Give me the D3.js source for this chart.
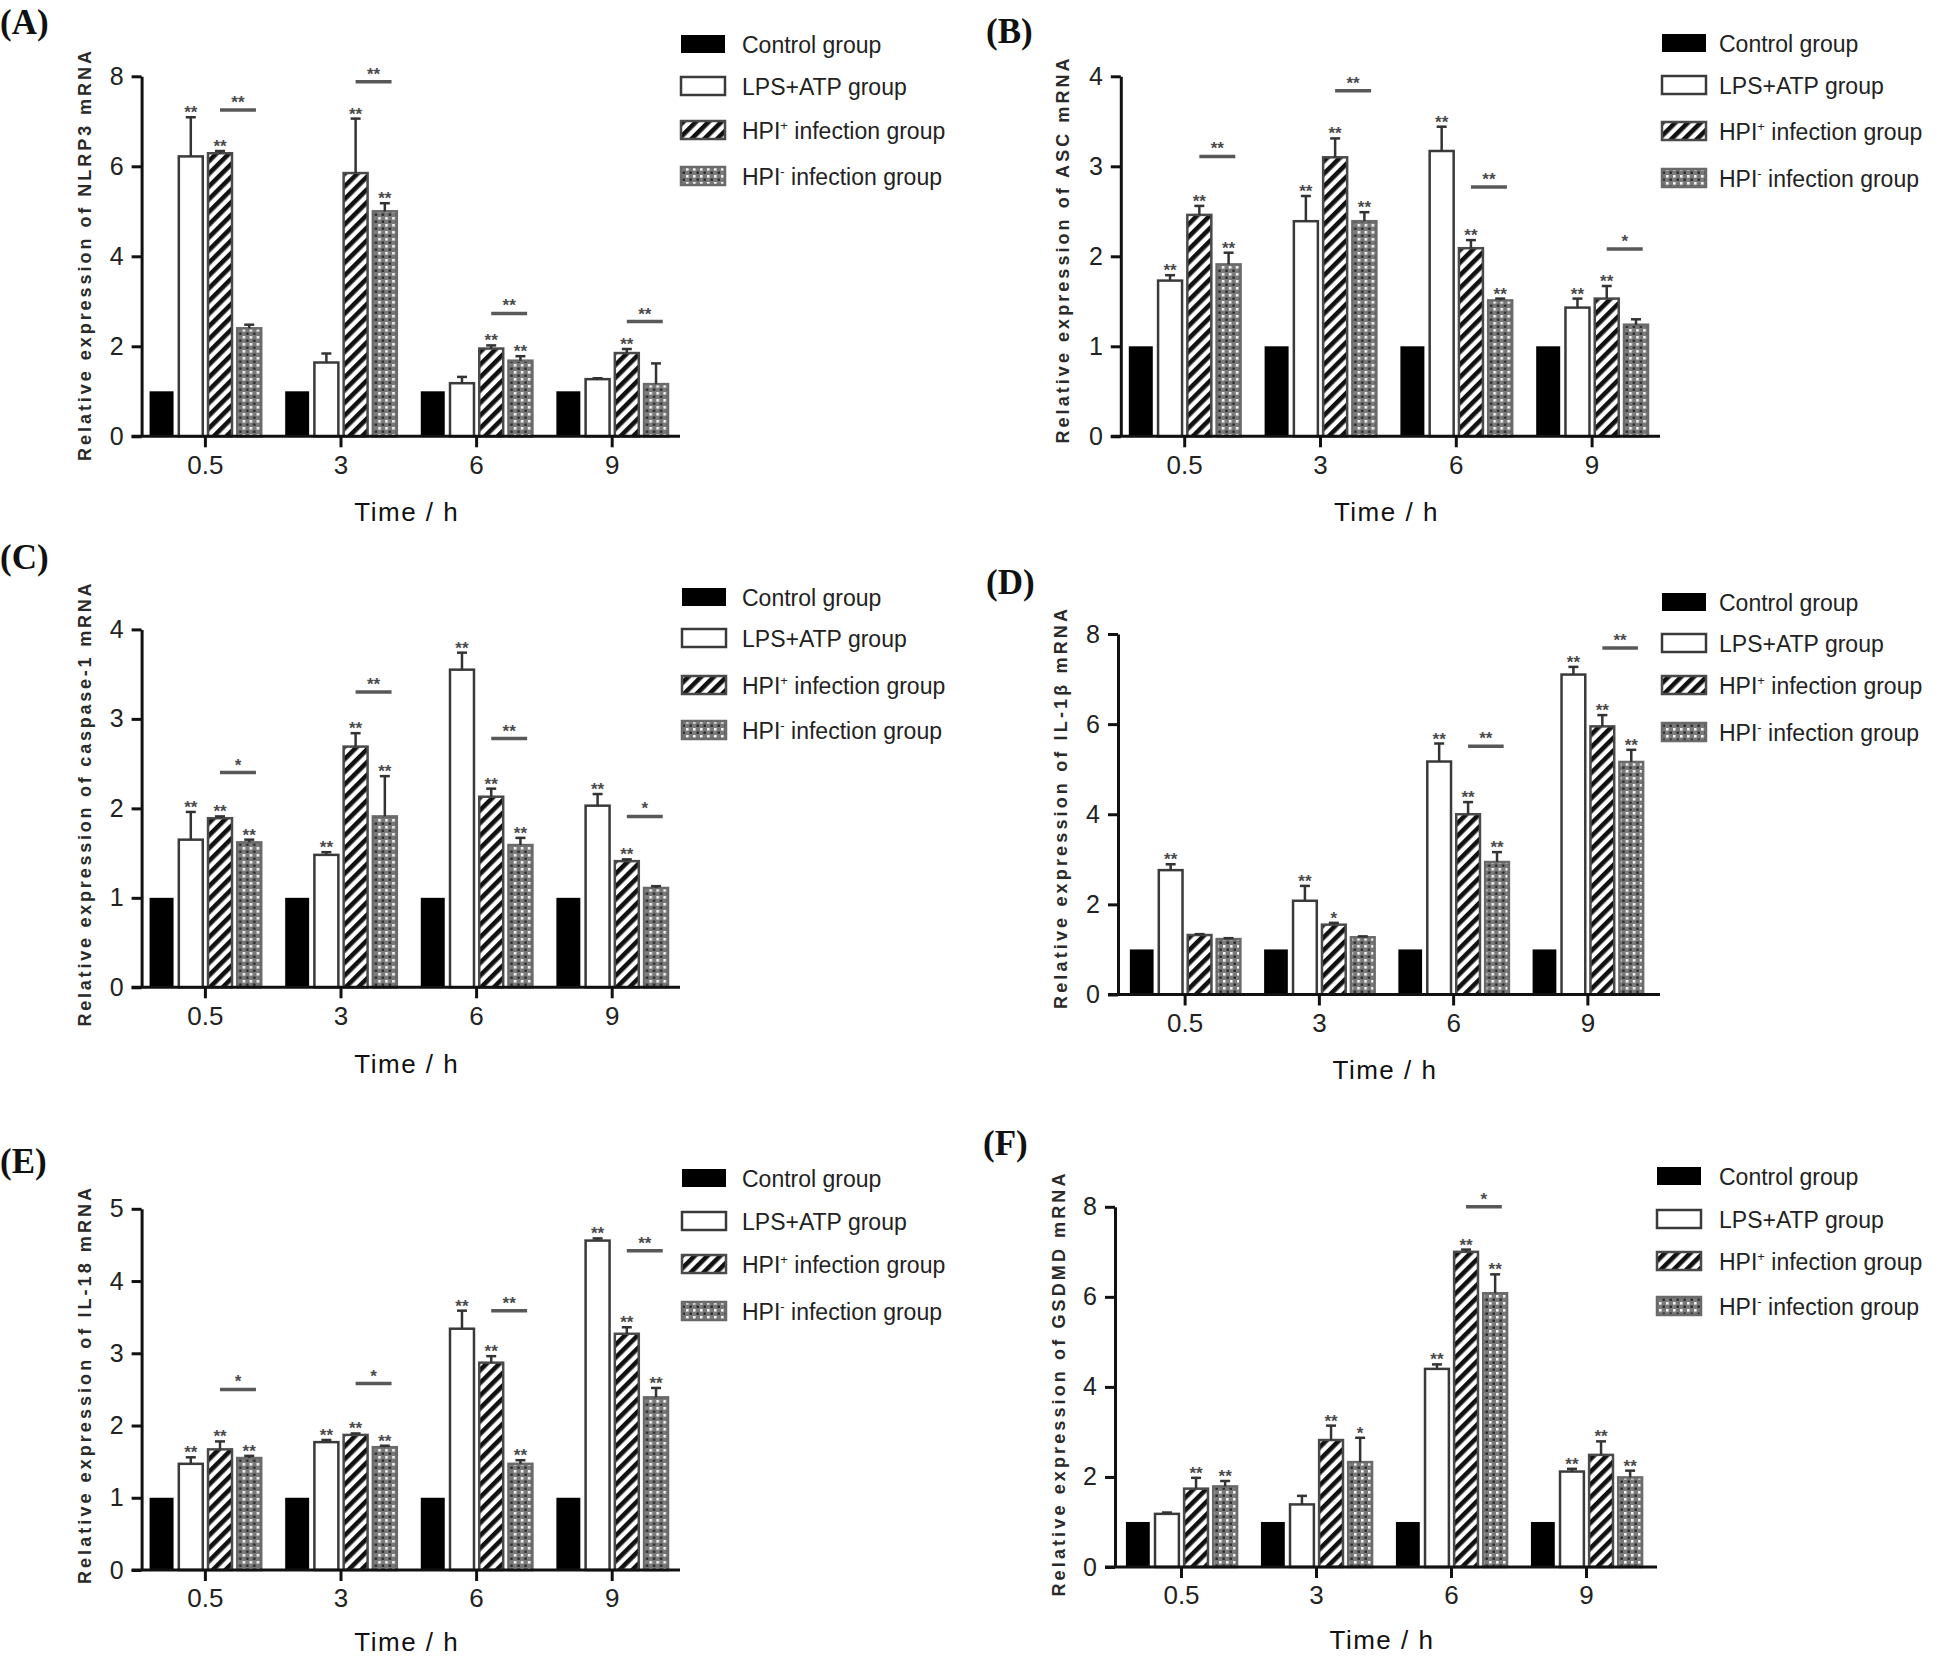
<!DOCTYPE html>
<html><head><meta charset="utf-8">
<script src="https://cdn.jsdelivr.net/npm/d3@7"></script>
<style>body{margin:0;background:#fff} svg{display:block}</style>
</head><body>
<svg id="chart" width="1946" height="1657"></svg>
<script>
// ---------------- DATA ----------------
const categories = ["0.5", "3", "6", "9"];
const seriesNames = ["Control group", "LPS+ATP group", "HPI+ infection group", "HPI- infection group"];
const panelLabels = ["(A)", "(B)", "(C)", "(D)", "(E)", "(F)"];
const yTitles = [
  "Relative expression of NLRP3 mRNA",
  "Relative expression of ASC mRNA",
  "Relative expression of caspase-1 mRNA",
  "Relative expression of IL-1β mRNA",
  "Relative expression of IL-18 mRNA",
  "Relative expression of GSDMD mRNA"
];
const yMaxValues = [8, 4, 4, 8, 5, 8];
const yTickSteps = [2, 1, 1, 2, 1, 2];
const xTitle = "Time / h";

// means[category][series], sd[category][series]
const nlrp3Mean = [[1, 6.22, 6.29, 2.40], [1, 1.64, 5.85, 5.00], [1, 1.18, 1.95, 1.68], [1, 1.27, 1.85, 1.16]];
const nlrp3Sd   = [[0, 0.87, 0.05, 0.08], [0, 0.20, 1.21, 0.18], [0, 0.14, 0.07, 0.10], [0, 0.02, 0.09, 0.46]];
const nlrp3Stars = [["", "**", "**", ""], ["", "", "**", "**"], ["", "", "**", "**"], ["", "", "**", ""]];
const nlrp3Comp = [["**", 7.25], ["**", 7.88], ["**", 2.73], ["**", 2.55]];

const ascMean = [[1, 1.73, 2.46, 1.91], [1, 2.39, 3.10, 2.39], [1, 3.17, 2.09, 1.51], [1, 1.43, 1.53, 1.24]];
const ascSd   = [[0, 0.06, 0.10, 0.13], [0, 0.28, 0.21, 0.10], [0, 0.27, 0.09, 0.02], [0, 0.10, 0.14, 0.06]];
const ascStars = [["", "**", "**", "**"], ["", "**", "**", "**"], ["", "**", "**", "**"], ["", "**", "**", ""]];
const ascComp = [["**", 3.11], ["**", 3.84], ["**", 2.77], ["*", 2.08]];

const casp1Mean = [[1, 1.65, 1.89, 1.62], [1, 1.48, 2.69, 1.91], [1, 3.55, 2.13, 1.59], [1, 2.03, 1.41, 1.11]];
const casp1Sd   = [[0, 0.31, 0.02, 0.03], [0, 0.03, 0.15, 0.45], [0, 0.19, 0.09, 0.08], [0, 0.13, 0.02, 0.02]];
const casp1Stars = [["", "**", "**", "**"], ["", "**", "**", "**"], ["", "**", "**", "**"], ["", "**", "**", ""]];
const casp1Comp = [["*", 2.40], ["**", 3.30], ["**", 2.78], ["*", 1.91]];

const il1bMean = [[1, 2.76, 1.32, 1.23], [1, 2.08, 1.55, 1.27], [1, 5.17, 4.00, 2.94], [1, 7.10, 5.95, 5.16]];
const il1bSd   = [[0, 0.13, 0.02, 0.02], [0, 0.33, 0.04, 0.02], [0, 0.40, 0.27, 0.22], [0, 0.17, 0.25, 0.27]];
const il1bStars = [["", "**", "", ""], ["", "**", "*", ""], ["", "**", "**", "**"], ["", "**", "**", "**"]];
const il1bComp = [null, null, ["**", 5.51], ["**", 7.69]];

const il18Mean = [[1, 1.47, 1.67, 1.55], [1, 1.77, 1.87, 1.70], [1, 3.34, 2.87, 1.47], [1, 4.56, 3.27, 2.39]];
const il18Sd   = [[0, 0.09, 0.11, 0.03], [0, 0.03, 0.02, 0.02], [0, 0.25, 0.09, 0.05], [0, 0.03, 0.09, 0.13]];
const il18Stars = [["", "**", "**", "**"], ["", "**", "**", "**"], ["", "**", "**", "**"], ["", "**", "**", "**"]];
const il18Comp = [["*", 2.50], ["*", 2.58], ["**", 3.59], ["**", 4.42]];

const gsdmdMean = [[1, 1.18, 1.74, 1.79], [1, 1.39, 2.82, 2.33], [1, 4.40, 7.00, 6.08], [1, 2.12, 2.49, 1.99]];
const gsdmdSd   = [[0, 0.03, 0.24, 0.12], [0, 0.19, 0.32, 0.54], [0, 0.10, 0.05, 0.42], [0, 0.06, 0.30, 0.15]];
const gsdmdStars = [["", "", "**", "**"], ["", "", "**", "*"], ["", "**", "**", "**"], ["", "**", "**", "**"]];
const gsdmdComp = [null, null, ["*", 8.0], null];

const panelMeans = [nlrp3Mean, ascMean, casp1Mean, il1bMean, il18Mean, gsdmdMean];
const panelSds = [nlrp3Sd, ascSd, casp1Sd, il1bSd, il18Sd, gsdmdSd];
const panelStars = [nlrp3Stars, ascStars, casp1Stars, il1bStars, il18Stars, gsdmdStars];
const panelComps = [nlrp3Comp, ascComp, casp1Comp, il1bComp, il18Comp, gsdmdComp];

// ---------------- LAYOUT ----------------
const layout = [
  {axisX:141.6, xEnd:680, band:[137.6,680], yTop:76.3, yBottom:436.3, label:[0,34], legendX:680, textX:742, rows:[44,86,130,176], titleX:91, titleY:256, titleLen:410, xTitleY:521},
  {axisX:1120.8, xEnd:1660, band:[1116.8,1660], yTop:76.3, yBottom:436.3, label:[986,43], legendX:1661, textX:1719, rows:[43,85,131,178], titleX:1069, titleY:251, titleLen:385, xTitleY:521},
  {axisX:141.6, xEnd:680, band:[137.6,680], yTop:629.4, yBottom:987.3, label:[0,569], legendX:681, textX:742, rows:[597,638,685,730], titleX:91, titleY:805, titleLen:443, xTitleY:1073},
  {axisX:1118, xEnd:1660, band:[1118,1655], yTop:634, yBottom:994.5, label:[986,594], legendX:1661, textX:1719, rows:[602,643,685,732], titleX:1067, titleY:809, titleLen:400, xTitleY:1079},
  {axisX:141.6, xEnd:680, band:[137.6,680], yTop:1208.8, yBottom:1570, label:[0,1173], legendX:681, textX:742, rows:[1178,1221,1264,1311], titleX:91, titleY:1386, titleLen:396, xTitleY:1651},
  {axisX:1115, xEnd:1657, band:[1114,1654], yTop:1206.8, yBottom:1567, label:[983,1155], legendX:1656, textX:1719, rows:[1176,1219,1261,1306], titleX:1065, titleY:1385, titleLen:423, xTitleY:1649}
];

const SANS = "'Liberation Sans', Arial, sans-serif";
const SERIF = "'Liberation Serif', 'Times New Roman', serif";

const svg = d3.select("#chart");
const defs = svg.append("defs");
const st = defs.append("pattern").attr("id", "stripes").attr("patternUnits", "userSpaceOnUse")
  .attr("width", 9).attr("height", 9).attr("patternTransform", "rotate(45)");
st.append("rect").attr("width", 9).attr("height", 9).attr("fill", "#fff");
st.append("rect").attr("width", 4.6).attr("height", 9).attr("fill", "#111");
const ck = defs.append("pattern").attr("id", "checker").attr("patternUnits", "userSpaceOnUse")
  .attr("width", 7).attr("height", 7);
ck.append("rect").attr("width", 7).attr("height", 7).attr("fill", "#7a7a7a");
ck.append("rect").attr("x", 0).attr("y", 0).attr("width", 2.6).attr("height", 2.6).attr("fill", "#f4f4f4");
ck.append("rect").attr("x", 3.5).attr("y", 3.5).attr("width", 2.4).attr("height", 2.4).attr("fill", "#262626");

const fills = ["#000", "#fff", "url(#stripes)", "url(#checker)"];
const strokes = ["#000", "#3a3a3a", "#4a4a4a", "#6a6a6a"];

function drawPanel(i) {
  const p = layout[i];
  const means = panelMeans[i], sds = panelSds[i], stars = panelStars[i], comps = panelComps[i];
  const g = svg.append("g");
  const y = d3.scaleLinear().domain([0, yMaxValues[i]]).range([p.yBottom, p.yTop]);
  const x0 = d3.scaleBand().domain(categories).range(p.band);
  const x1 = d3.scaleBand().domain(d3.range(seriesNames.length)).range([0, x0.bandwidth()])
    .paddingInner(0.18).paddingOuter(0.41);
  const bw = x1.bandwidth();

  categories.forEach((c, ci) => {
    const gg = g.append("g").attr("transform", `translate(${x0(c)},0)`);
    seriesNames.forEach((s, si) => {
      const m = means[ci][si], sd = sds[ci][si];
      const bx = x1(si), cx = bx + bw / 2;
      gg.append("rect").attr("x", bx).attr("y", y(m)).attr("width", bw)
        .attr("height", y(0) - y(m)).attr("fill", fills[si])
        .attr("stroke", strokes[si]).attr("stroke-width", si === 0 ? 0 : 2.5);
      let topY = y(m);
      if (sd > 0) {
        topY = y(m + sd);
        gg.append("line").attr("x1", cx).attr("x2", cx).attr("y1", y(m)).attr("y2", topY)
          .attr("stroke", "#333").attr("stroke-width", 2.5);
        gg.append("line").attr("x1", cx - 5).attr("x2", cx + 5).attr("y1", topY).attr("y2", topY)
          .attr("stroke", "#333").attr("stroke-width", 2.5);
      }
      if (stars[ci][si]) {
        gg.append("text").attr("x", cx).attr("y", topY + 1).attr("text-anchor", "middle")
          .attr("font-family", SANS).attr("font-weight", "bold").attr("font-size", 17)
          .attr("fill", "#4a4a4a").text(stars[ci][si]);
      }
    });
    const cmp = comps[ci];
    if (cmp) {
      const xa = x1(2) + bw / 2, xb = x1(3) + bw * 0.78;
      const ly = y(cmp[1]);
      gg.append("line").attr("x1", xa).attr("x2", xb).attr("y1", ly).attr("y2", ly)
        .attr("stroke", "#585858").attr("stroke-width", 3.5);
      gg.append("text").attr("x", (xa + xb) / 2).attr("y", ly - 2).attr("text-anchor", "middle")
        .attr("font-family", SANS).attr("font-weight", "bold").attr("font-size", 17)
        .attr("fill", "#4a4a4a").text(cmp[0]);
    }
  });

  const ticks = d3.range(0, yMaxValues[i] + 1e-9, yTickSteps[i]);
  const ya = g.append("g").attr("transform", `translate(${p.axisX},0)`)
    .call(d3.axisLeft(y).tickValues(ticks).tickFormat(d3.format("d")).tickSize(10).tickSizeOuter(0).tickPadding(8));
  ya.select(".domain").attr("stroke", "#111").attr("stroke-width", 3);
  ya.selectAll(".tick line").attr("stroke", "#111").attr("stroke-width", 3);
  ya.selectAll(".tick text").attr("font-family", SANS).attr("font-size", 25).attr("fill", "#222");

  const xa = g.append("g").attr("transform", `translate(0,${p.yBottom})`)
    .call(d3.axisBottom(x0).tickSize(11).tickSizeOuter(0).tickPadding(8));
  xa.select(".domain").attr("d", `M${p.axisX - 10},0H${p.xEnd}`).attr("stroke", "#111").attr("stroke-width", 3);
  xa.selectAll(".tick line").attr("stroke", "#111").attr("stroke-width", 3);
  xa.selectAll(".tick text").attr("font-family", SANS).attr("font-size", 26).attr("fill", "#222");

  g.append("text").attr("x", (p.axisX + p.xEnd) / 2 - 4).attr("y", p.xTitleY).attr("text-anchor", "middle")
    .attr("font-family", SANS).attr("font-size", 26).attr("letter-spacing", 1.5).attr("fill", "#111")
    .text(xTitle);

  g.append("text").attr("transform", `translate(${p.titleX},${p.titleY}) rotate(-90)`)
    .attr("text-anchor", "middle").attr("font-family", SANS).attr("font-weight", "bold")
    .attr("font-size", 18).attr("fill", "#2a2a2a")
    .attr("textLength", p.titleLen).attr("lengthAdjust", "spacing")
    .text(yTitles[i]);

  g.append("text").attr("x", p.label[0]).attr("y", p.label[1]).attr("font-family", SERIF)
    .attr("font-weight", "bold").attr("font-size", 35).attr("fill", "#111").text(panelLabels[i]);

  seriesNames.forEach((s, si) => {
    const ry = p.rows[si];
    g.append("rect").attr("x", p.legendX + 1).attr("y", ry - 9).attr("width", 44).attr("height", 18)
      .attr("fill", fills[si]).attr("stroke", strokes[si]).attr("stroke-width", si === 0 ? 0 : 2.5);
    const t = g.append("text").attr("x", p.textX).attr("y", ry + 8.5).attr("font-family", SANS)
      .attr("font-size", 23).attr("fill", "#222");
    if (si >= 2) {
      t.append("tspan").text("HPI");
      t.append("tspan").attr("dy", -9).attr("font-size", 13).text(si === 2 ? "+" : "-");
      t.append("tspan").attr("dy", 9).text(" infection group");
    } else {
      t.text(s);
    }
  });
}

for (let i = 0; i < 6; i++) drawPanel(i);
</script>
</body></html>
